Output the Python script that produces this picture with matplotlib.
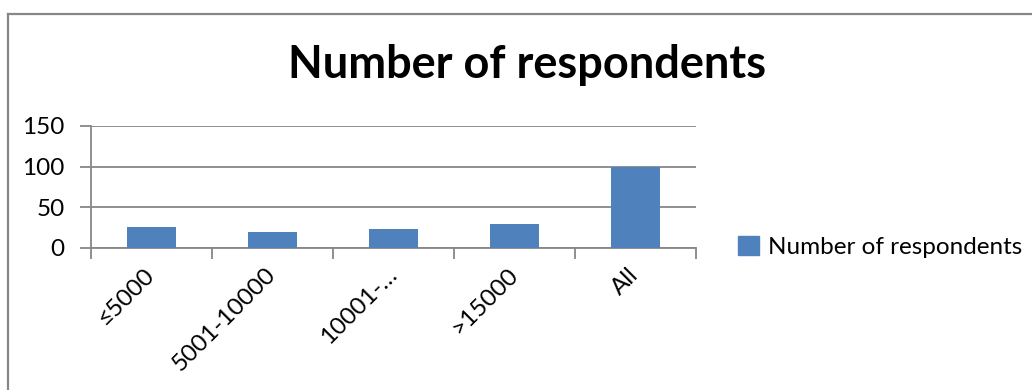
import matplotlib
matplotlib.use("Agg")
import matplotlib.pyplot as plt
import matplotlib.transforms as mtransforms
from matplotlib.patches import Rectangle
from matplotlib.lines import Line2D

categories = ["≤5000", "5001-10000", "10001-…", ">15000", "All"]
respondents = [26, 20, 23, 30, 100]
y_ticks = [0, 50, 100, 150]
series_name = "Number of respondents"

BAR = "#4F81BD"
GRID = "#878787"
FONT = "Lato"
FS = 17.5

plt.rcParams["font.family"] = [FONT, "DejaVu Sans"]

W, H = 1032, 390
fig = plt.figure(figsize=(W / 100, H / 100), dpi=100)

# chart-area frame (only top and left edges fall inside the image)
fig.add_artist(Line2D([8 / W, 8 / W], [0, 1 - 14 / H], transform=fig.transFigure,
                      color=GRID, lw=1.6))
fig.add_artist(Line2D([8 / W, 1], [1 - 14 / H, 1 - 14 / H], transform=fig.transFigure,
                      color=GRID, lw=1.6))

ax = fig.add_axes([91 / W, (H - 248) / H, (696 - 91) / W, 122 / H])
x = list(range(len(categories)))
ax.bar(x, respondents, width=0.4, color=BAR, zorder=3)

ax.set_xlim(-0.5, len(categories) - 0.5)
ax.set_ylim(0, 150)
ax.set_yticks(y_ticks)
ax.set_yticklabels([str(v) for v in y_ticks], fontsize=FS)
ax.yaxis.grid(True, color=GRID, lw=1.3, zorder=0)
ax.tick_params(axis="y", length=8, width=1.3, color=GRID, pad=11)

ax.set_xticks(x)
ax.set_xticklabels(categories, rotation=45, ha="right", va="center",
                   rotation_mode="anchor", fontsize=FS)
shift = mtransforms.ScaledTranslation(3 / 100, 0, fig.dpi_scale_trans)
for lbl in ax.get_xticklabels():
    lbl.set_transform(lbl.get_transform() + shift)
ax.set_xticks([i - 0.5 for i in range(len(categories) + 1)], minor=True)
ax.tick_params(axis="x", which="major", length=0, pad=17)
ax.tick_params(axis="x", which="minor", length=8, width=1.3, color=GRID)

for side in ("top", "right"):
    ax.spines[side].set_visible(False)
for side in ("left", "bottom"):
    ax.spines[side].set_color(GRID)
    ax.spines[side].set_linewidth(1.3)

fig.text((291 + 763) / 2 / W, 1 - 65 / H, series_name, ha="center", va="center",
         fontsize=32.5, fontweight="bold")

fig.legend(handles=[Rectangle((0, 0), 1, 1, color=BAR)], labels=[series_name],
           loc="center left", bbox_to_anchor=(738 / W, 1 - 247 / H), frameon=False,
           fontsize=FS, handlelength=0.85, handleheight=0.85, handletextpad=0.4,
           borderpad=0, borderaxespad=0)

fig.savefig("out.png", dpi=100, facecolor="white")
